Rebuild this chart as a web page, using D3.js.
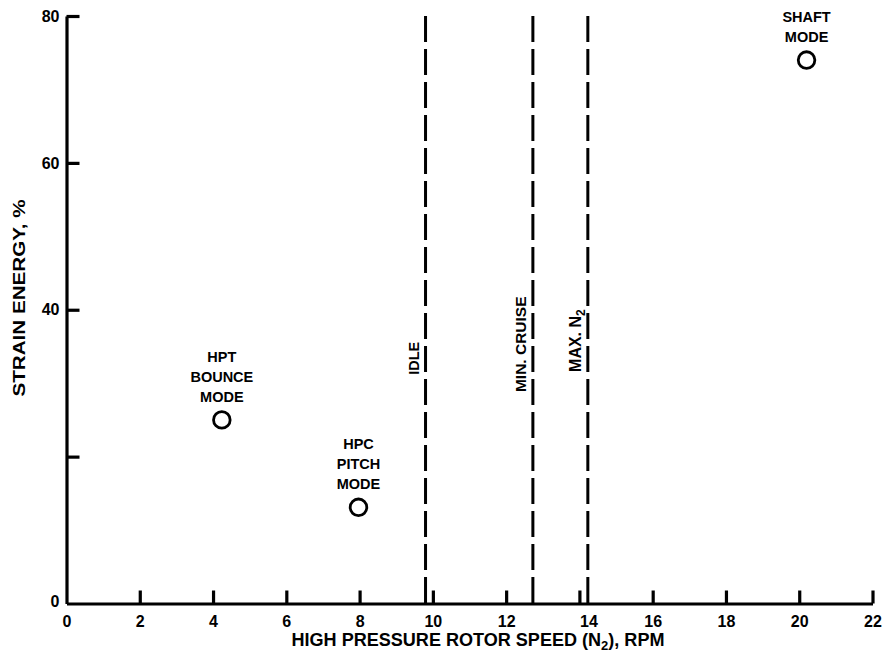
<!DOCTYPE html>
<html>
<head>
<meta charset="utf-8">
<script src="https://cdn.jsdelivr.net/npm/d3@7"></script>
<style>
  html, body { margin: 0; padding: 0; background: #fff; }
  svg text { font-family: "Liberation Sans", Arial, Helvetica, sans-serif; font-weight: bold; fill: #000; }
</style>
</head>
<body>
<svg id="chart" width="882" height="664"></svg>
<script>
// Axis ticks
const xTicks = [0, 2, 4, 6, 8, 10, 12, 14, 16, 18, 20, 22];
const yTicks = [0, 20, 40, 60, 80];
const yTickLabels = ["0", "", "40", "60", "80"];

// Vibration modes: rotor speed (N2, RPM) and strain energy (%)
const modeNames = [["HPT", "BOUNCE", "MODE"], ["HPC", "PITCH", "MODE"], ["SHAFT", "MODE"]];
const modeSpeed = [4.24, 7.97, 20.2];
const modeStrain = [25.0, 13.1, 74.0];

// Operating limits (vertical dashed lines)
const limitNames = ["IDLE", "MIN. CRUISE", "MAX. N"];
const limitSub = ["", "", "2"];
const limitSpeed = [9.8, 12.73, 14.23];

const svg = d3.select("#chart");
const x = d3.scaleLinear().domain([0, 22]).range([66.5, 872.5]);
const y = d3.scaleLinear().domain([0, 80]).range([603.5, 16]);

// Axes drawn with inward ticks
const xAxis = svg.append("g")
  .attr("transform", `translate(0,${y(0)})`)
  .call(d3.axisBottom(x).tickValues(xTicks).tickSizeInner(-13).tickSizeOuter(0).tickPadding(0)
        .tickFormat(d3.format("d")));
xAxis.attr("font-size", 16).attr("font-family", null);
xAxis.select(".domain").attr("stroke", "#000").attr("stroke-width", 3.2);
xAxis.selectAll(".tick line").attr("stroke", "#000").attr("stroke-width", 3.2)
  .filter(d => d === 0).remove();
xAxis.selectAll(".tick text")
  .attr("y", 23).attr("dy", null)
  .attr("dx", d => d === 14 ? 9 : 0);

const yAxis = svg.append("g")
  .attr("transform", `translate(${x(0)},0)`)
  .call(d3.axisLeft(y).tickValues(yTicks).tickSizeInner(-13).tickSizeOuter(0).tickPadding(0)
        .tickFormat((d, i) => yTickLabels[i]));
yAxis.attr("font-size", 16).attr("font-family", null);
yAxis.select(".domain").attr("stroke", "#000").attr("stroke-width", 3.2);
yAxis.selectAll(".tick line").attr("stroke", "#000").attr("stroke-width", 3.2)
  .filter(d => d === 0).remove();
yAxis.selectAll(".tick text").attr("x", -7)
  .attr("dy", d => d === 0 ? "0.2em" : "0.32em");

// Axis titles
const xt = svg.append("text")
  .attr("x", 478 - 373 / 2).attr("y", 645.5)
  .attr("font-size", 18)
  .attr("textLength", 373).attr("lengthAdjust", "spacingAndGlyphs");
xt.append("tspan").text("HIGH PRESSURE ROTOR SPEED (N");
xt.append("tspan").attr("font-size", 13).attr("dy", 4).text("2");
xt.append("tspan").attr("dy", -4).text("), RPM");

svg.append("text")
  .attr("transform", "translate(25,298) rotate(-90)")
  .attr("text-anchor", "middle")
  .attr("font-size", 17)
  .attr("textLength", 197).attr("lengthAdjust", "spacingAndGlyphs")
  .text("STRAIN ENERGY, %");

// Operating limit lines
const limitLabelStrain = [33.4, 35.3, 35.8];
const limitLabelSize = [14.5, 15.5, 16];
const limits = svg.append("g");
limitSpeed.forEach((s, i) => {
  limits.append("line")
    .attr("x1", x(s)).attr("x2", x(s))
    .attr("y1", y(80)).attr("y2", y(0))
    .attr("stroke", "#000").attr("stroke-width", 3)
    .attr("stroke-dasharray", "26,7");
  const t = limits.append("text")
    .attr("transform", `translate(${x(s) - 7},${y(limitLabelStrain[i])}) rotate(-90)`)
    .attr("text-anchor", "middle")
    .attr("font-size", limitLabelSize[i]);
  t.append("tspan").text(limitNames[i]);
  if (limitSub[i]) t.append("tspan").attr("font-size", 12).attr("dy", 4).text(limitSub[i]);
});

// Mode points with stacked labels
const modes = svg.append("g");
modeSpeed.forEach((s, i) => {
  const cx = x(s), cy = y(modeStrain[i]);
  modes.append("circle")
    .attr("cx", cx).attr("cy", cy).attr("r", 8.3)
    .attr("fill", "none").attr("stroke", "#000").attr("stroke-width", 2.8);
  const lines = modeNames[i];
  lines.forEach((ln, j) => {
    modes.append("text")
      .attr("x", cx)
      .attr("y", cy - 18 - (lines.length - 1 - j) * 20)
      .attr("text-anchor", "middle")
      .attr("font-size", 14.5)
      .text(ln);
  });
});
</script>
</body>
</html>
